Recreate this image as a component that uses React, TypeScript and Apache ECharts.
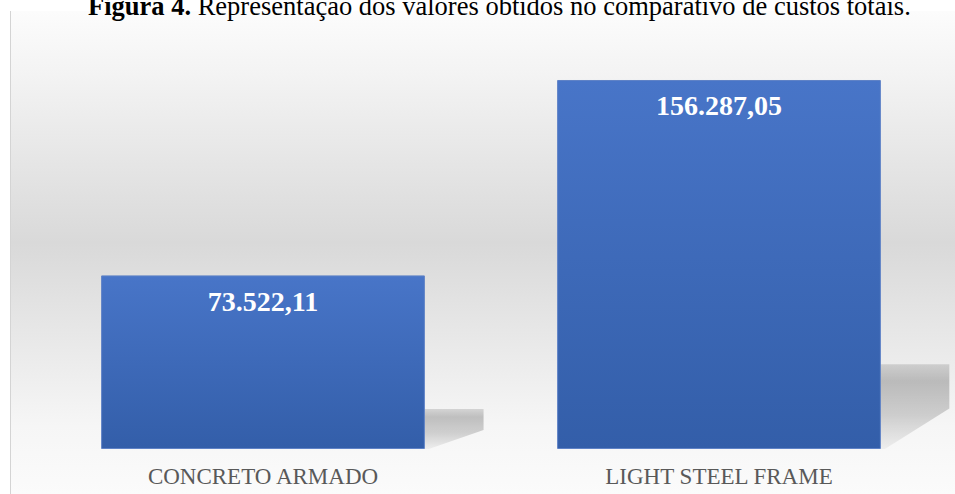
import React, { useEffect, useRef } from "react";
import * as echarts from "echarts";

const categories = ["CONCRETO ARMADO", "LIGHT STEEL FRAME"];
const totalCosts = [73522.11, 156287.05];
const titleBold = "Figura 4.";
const titleRest = " Representação dos valores obtidos no comparativo de custos totais.";

function fmtBR(v: number): string {
  const [i, d] = v.toFixed(2).split(".");
  return i.replace(/\B(?=(\d{3})+(?!\d))/g, ".") + "," + d;
}

export default function App() {
  const ref = useRef<HTMLDivElement>(null);
  useEffect(() => {
    if (!ref.current) return;
    const chart = echarts.init(ref.current, undefined, { renderer: "svg" });
    const serif = "'Liberation Serif', 'Times New Roman', serif";
    chart.setOption({
      animation: false,
      backgroundColor: "#ffffff",
      graphic: [
        {
          type: "rect",
          z: -10,
          silent: true,
          shape: { x: 10, y: 11, width: 945, height: 483 },
          style: {
            fill: new echarts.graphic.LinearGradient(0, 0, 0, 1, [
              { offset: 0, color: "#fcfcfc" },
              { offset: 0.12, color: "#f4f4f4" },
              { offset: 0.48, color: "#d9d9d9" },
              { offset: 0.86, color: "#f6f6f6" },
              { offset: 1, color: "#fbfbfb" },
            ]),
          },
        },
        {
          type: "line",
          z: -9,
          silent: true,
          shape: { x1: 10.5, y1: 11, x2: 10.5, y2: 494 },
          style: { stroke: "#d4d4d4", lineWidth: 1 },
        },
        {
          type: "text",
          left: 88,
          top: -8,
          style: {
            text: "{b|" + titleBold + "}{n|" + titleRest + "}",
            rich: {
              b: { fontFamily: serif, fontSize: 26.5, fontWeight: "bold", fill: "#000" },
              n: { fontFamily: serif, fontSize: 26.5, fill: "#000" },
            },
          },
        },
      ],
      grid: { left: 35, right: 8, top: 24, bottom: 45 },
      xAxis: {
        type: "category",
        data: categories,
        axisLine: { show: false },
        axisTick: { show: false },
        axisLabel: {
          margin: 16,
          fontFamily: serif,
          fontSize: 23,
          color: "#595959",
        },
      },
      yAxis: { type: "value", min: 0, max: 180000, show: false, splitLine: { show: false } },
      series: [
        {
          type: "custom",
          z: 1,
          silent: true,
          data: totalCosts.map((v, i) => [i, v]),
          encode: { x: 0, y: 1 },
          renderItem: (params: any, api: any) => {
            const idx = api.value(0);
            const val = api.value(1);
            const base = api.coord([idx, 0]);
            const top = api.coord([idx, val]);
            const bw = api.size([1, 0])[0] * 0.71;
            const xr = base[0] + bw / 2;
            const h = base[1] - top[1];
            const ys = base[1] - 0.23 * h;
            const ext = 50 + 0.05 * h;
            const v = 0.12 * h;
            return {
              type: "polygon",
              shape: {
                points: [
                  [xr - 2, ys],
                  [xr + ext, ys],
                  [xr + ext, ys + v],
                  [xr + 4, base[1]],
                  [xr - 2, base[1]],
                ],
              },
              style: {
                fill: new echarts.graphic.LinearGradient(0, 0, 0, 1, [
                  { offset: 0, color: "rgba(0,0,0,0.13)" },
                  { offset: 0.2, color: "rgba(0,0,0,0.22)" },
                  { offset: 0.6, color: "rgba(0,0,0,0.16)" },
                  { offset: 1, color: "rgba(0,0,0,0.04)" },
                ]),
              },
            };
          },
        },
        {
          type: "bar",
          z: 2,
          data: totalCosts,
          barWidth: "71%",
          itemStyle: {
            color: new echarts.graphic.LinearGradient(0, 0, 0, 1, [
              { offset: 0, color: "#4875c8" },
              { offset: 1, color: "#335ea9" },
            ]),
            borderColor: "#5f82c6",
            borderWidth: 1,
          },
          label: {
            show: true,
            position: "insideTop",
            distance: 12,
            formatter: (p: any) => fmtBR(p.value),
            fontFamily: serif,
            fontSize: 28,
            fontWeight: "bold",
            color: "#ffffff",
          },
        },
      ],
    });
    return () => chart.dispose();
  }, []);
  return <div ref={ref} style={{ width: 955, height: 494, position: "absolute", left: 0, top: 0 }} />;
}
